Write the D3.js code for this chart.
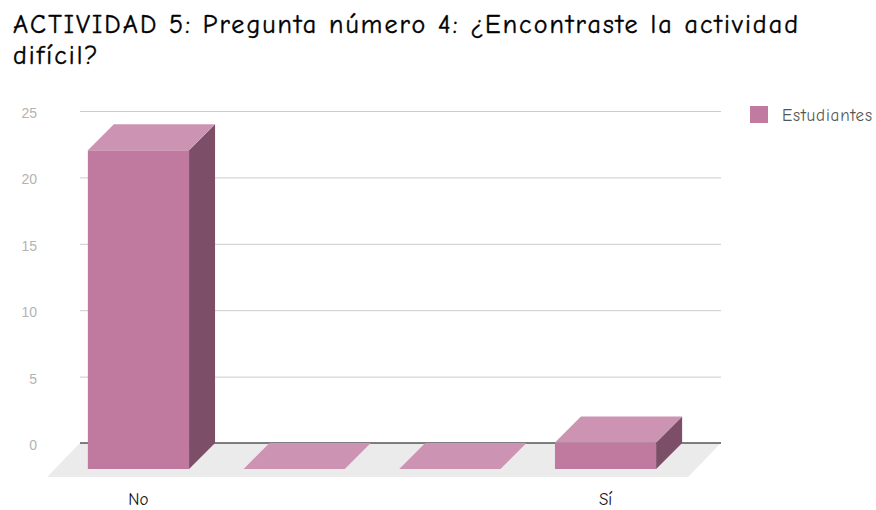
<!DOCTYPE html>
<html lang="es">
<head>
<meta charset="utf-8">
<title>ACTIVIDAD 5</title>
<script src="https://d3js.org/d3.v7.min.js"></script>
<style>
body { margin: 0; background: #fff; }
.comic { font-family: "Comic Sans MS", "Comic Neue", "Noto Sans", sans-serif; }
.axis-label { font-family: Arial, "Liberation Sans", sans-serif; font-size: 14px; fill: #b3b3b3; }
</style>
</head>
<body>
<div id="chart"></div>
<script>

// data
var categories = ["No", "", "", "Sí"];
var values = [24, 0, 0, 2];
var yTicks = [0, 5, 10, 15, 20, 25];
var seriesName = "Estudiantes";
var titleLines = ["ACTIVIDAD 5: Pregunta número 4: ¿Encontraste la actividad", "difícil?"];

var W = 876, H = 510;
var depth = 26;   // 3d offset of the bars
var floorDepth = 34;

var svg = d3.select("#chart").append("svg")
    .attr("width", W)
    .attr("height", H);

// stretch a text to a given width with letter spacing
function fitWidth(sel, target) {
    var n = sel.text().length;
    var w = sel.node().getComputedTextLength();
    sel.attr("letter-spacing", (target - w) / Math.max(1, n - 1));
}

// y scale lives on the back wall
var y = d3.scaleLinear().domain([0, 25]).range([443, 111]);

// x band for the front faces
var x = d3.scaleBand()
    .domain(d3.range(categories.length))
    .range([60.6, 683.4])
    .paddingInner(0.35)
    .paddingOuter(0.175);

var wallLeft = 80, wallRight = 721;

// floor
svg.append("polygon")
    .attr("points", [
        [wallLeft, y(0)], [wallRight, y(0)],
        [wallRight - floorDepth + 1, y(0) + floorDepth], [wallLeft - floorDepth + 1, y(0) + floorDepth]
    ].join(" "))
    .attr("fill", "#ebebeb");

// gridlines
svg.selectAll(".grid")
    .data(yTicks.filter(function(d) { return d != 0; }))
    .enter().append("line")
    .attr("x1", wallLeft).attr("x2", wallRight)
    .attr("y1", function(d) { return y(d) + 0.5; })
    .attr("y2", function(d) { return y(d) + 0.5; })
    .attr("stroke", "#cccccc")
    .attr("stroke-width", 1);

// baseline
svg.append("line")
    .attr("x1", wallLeft).attr("x2", wallRight)
    .attr("y1", y(0)).attr("y2", y(0))
    .attr("stroke", "#555")
    .attr("stroke-width", 1.5);

// y axis labels
svg.selectAll(".axis-label")
    .data(yTicks)
    .enter().append("text")
    .attr("class", "axis-label")
    .attr("x", 37)
    .attr("y", function(d) { return y(d) + 7; })
    .attr("text-anchor", "end")
    .text(function(d) { return d; });

// bars
var bars = svg.selectAll(".bar")
    .data(values)
    .enter().append("g")
    .attr("class", "bar");

bars.each(function(v, i) {
    var g = d3.select(this);
    var fx = x(i), bw = x.bandwidth();
    var top = y(v), base = y(0);
    if (v > 0) {
        // front face
        g.append("rect")
            .attr("x", fx).attr("y", top + depth)
            .attr("width", bw).attr("height", base - top)
            .attr("fill", "#c17a9f");
        // side face
        g.append("polygon")
            .attr("points", [
                [fx + bw, top + depth], [fx + bw + depth, top],
                [fx + bw + depth, base], [fx + bw, base + depth]
            ].join(" "))
            .attr("fill", "#7d4e68");
    }
    // top face
    g.append("polygon")
        .attr("points", [
            [fx, top + depth], [fx + bw, top + depth],
            [fx + bw + depth, top], [fx + depth, top]
        ].join(" "))
        .attr("fill", "#cd93b3");
});

// x labels
svg.selectAll(".xlab")
    .data(categories)
    .enter().append("text")
    .attr("class", "comic")
    .attr("x", function(d, i) { return x(i) + x.bandwidth() / 2; })
    .attr("y", 505)
    .attr("text-anchor", "middle")
    .attr("font-size", 17)
    .attr("fill", "#111")
    .text(function(d) { return d; });

// legend
svg.append("rect")
    .attr("x", 750).attr("y", 106)
    .attr("width", 18).attr("height", 17)
    .attr("fill", "#c27ba0");
var leg = svg.append("text")
    .attr("class", "comic")
    .attr("x", 782).attr("y", 121)
    .attr("font-size", 17)
    .attr("fill", "#555")
    .text(seriesName);
fitWidth(leg, 90);

// title
var t1 = svg.append("text")
    .attr("class", "comic")
    .attr("x", 13).attr("y", 33)
    .attr("font-size", 26)
    .attr("fill", "#000")
    .attr("stroke", "#000")
    .attr("stroke-width", 0.4)
    .text(titleLines[0]);
fitWidth(t1, 785);
var t2 = svg.append("text")
    .attr("class", "comic")
    .attr("x", 13).attr("y", 64)
    .attr("font-size", 26)
    .attr("fill", "#000")
    .attr("stroke", "#000")
    .attr("stroke-width", 0.4)
    .attr("letter-spacing", t1.attr("letter-spacing"))
    .text(titleLines[1]);

</script>
</body>
</html>
